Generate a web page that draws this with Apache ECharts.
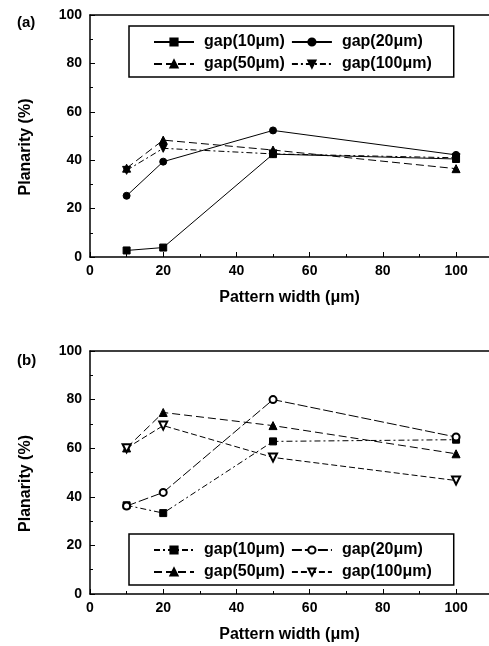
<!DOCTYPE html>
<html>
<head>
<meta charset="utf-8">
<script src="https://cdn.jsdelivr.net/npm/echarts@6/dist/echarts.min.js"></script>
<style>
  html, body { margin: 0; padding: 0; background: #fff; }
  #chart { width: 489px; height: 646px; }
</style>
</head>
<body>
<div id="chart"></div>
<script>
// Pattern widths (μm) shared by both panels
const patternWidths = [10, 20, 50, 100];

// Gap labels
const gapLabels = ['gap(10μm)', 'gap(20μm)', 'gap(50μm)', 'gap(100μm)'];

// Panel (a): planarity (%)
const aGap10 = [2.7, 3.9, 42.5, 40.5];
const aGap20 = [25.3, 39.4, 52.3, 42.2];
const aGap50 = [36.7, 48.3, 44.2, 36.5];
const aGap100 = [35.8, 44.9, 42.6, 41.0];

// Panel (b): planarity (%)
const bGap10 = [36.5, 33.3, 62.8, 63.5];
const bGap20 = [36.2, 41.8, 80.0, 64.6];
const bGap50 = [60.1, 74.7, 69.3, 57.7];
const bGap100 = [60.0, 69.3, 56.2, 46.7];

// Axis ticks
const xTicks = [0, 20, 40, 60, 80, 100];
const yTicks = [0, 20, 40, 60, 80, 100];

const FONT = '"Liberation Sans", Arial, Helvetica, sans-serif';
const INK = '#000';
const X_MAX = 109;

function pairs(vals) {
  return patternWidths.map((x, i) => [x, vals[i]]);
}

function xAxisFor(gridIndex) {
  return {
    gridIndex,
    type: 'value',
    position: 'bottom',
    min: 0,
    max: X_MAX,
    interval: 20,
    name: 'Pattern width (μm)',
    nameLocation: 'middle',
    nameGap: 33,
    nameTextStyle: { fontFamily: FONT, fontWeight: 'bold', fontSize: 16, color: INK },
    axisLine: { show: true, lineStyle: { color: INK, width: 1.5 } },
    axisTick: { show: true, inside: true, length: 5, lineStyle: { color: INK, width: 1 } },
    minorTick: { show: true, splitNumber: 2, length: 3, lineStyle: { color: INK, width: 1 } },
    splitLine: { show: false },
    axisLabel: {
      margin: 7,
      showMaxLabel: false,
      fontFamily: FONT, fontWeight: 'bold', fontSize: 14, color: INK,
      formatter: v => (xTicks.indexOf(v) >= 0 ? String(v) : '')
    }
  };
}

// Plain frame line along the top of each panel
function topFrameFor(gridIndex) {
  return {
    gridIndex,
    type: 'value',
    position: 'top',
    min: 0,
    max: X_MAX,
    axisLine: { show: true, lineStyle: { color: INK, width: 1.5 } },
    axisTick: { show: false },
    axisLabel: { show: false },
    splitLine: { show: false }
  };
}

function yAxisFor(gridIndex) {
  return {
    gridIndex,
    type: 'value',
    min: 0,
    max: 100,
    interval: 20,
    name: 'Planarity (%)',
    nameLocation: 'middle',
    nameGap: 56,
    nameTextStyle: {
      fontFamily: FONT, fontWeight: 'bold', fontSize: 16, color: INK,
      padding: [0, 22, 0, 0]
    },
    axisLine: { show: true, lineStyle: { color: INK, width: 1.5 } },
    axisTick: { show: true, inside: true, length: 5, lineStyle: { color: INK, width: 1 } },
    minorTick: { show: true, splitNumber: 2, length: 3, lineStyle: { color: INK, width: 1 } },
    splitLine: { show: false },
    axisLabel: {
      margin: 8,
      fontFamily: FONT, fontWeight: 'bold', fontSize: 14, color: INK,
      formatter: v => (yTicks.indexOf(v) >= 0 ? String(v) : '')
    }
  };
}

function lineSeries(id, label, vals, panel, symbol, rotate, dash, size) {
  return {
    id,
    name: panel + '|' + label,
    type: 'line',
    xAxisIndex: panel === 'a' ? 0 : 1,
    yAxisIndex: panel === 'a' ? 0 : 1,
    data: pairs(vals),
    symbol,
    symbolRotate: rotate,
    symbolSize: size,
    showAllSymbol: true,
    lineStyle: { color: INK, width: 1, type: dash },
    itemStyle: { color: INK, borderColor: INK, borderWidth: 1 },
    emphasis: { disabled: true },
    animation: false,
    z: 3
  };
}

function legendFor(panel, top) {
  return {
    data: gapLabels.map(l => panel + '|' + l),
    formatter: name => name.split('|')[1],
    orient: 'horizontal',
    left: 129,
    top,
    width: 282,
    padding: [8, 22, 5, 24],
    itemGap: 6,
    itemWidth: 40,
    itemHeight: 9,
    borderColor: INK,
    borderWidth: 1.5,
    backgroundColor: '#fff',
    selectedMode: false,
    textStyle: {
      fontFamily: FONT, fontWeight: 'bold', fontSize: 16, color: INK,
      lineHeight: 16, padding: [0, 0, 0, 5]
    }
  };
}

const chart = echarts.init(document.getElementById('chart'), null, { renderer: 'canvas' });

chart.setOption({
  backgroundColor: '#fff',
  animation: false,
  grid: [
    { left: 90, top: 15, right: 0, height: 242 },
    { left: 90, top: 351, right: 0, height: 243 }
  ],
  xAxis: [xAxisFor(0), xAxisFor(1), topFrameFor(0), topFrameFor(1)],
  yAxis: [yAxisFor(0), yAxisFor(1)],
  legend: [legendFor('a', 26), legendFor('b', 534)],
  graphic: [
    { type: 'text', left: 17, top: 15, style: { text: '(a)', fontFamily: FONT, fontWeight: 'bold', fontSize: 15, fill: INK } },
    { type: 'text', left: 17, top: 353, style: { text: '(b)', fontFamily: FONT, fontWeight: 'bold', fontSize: 15, fill: INK } }
  ],
  series: [
    lineSeries('a10', gapLabels[0], aGap10, 'a', 'rect', 0, 'solid', 7),
    lineSeries('a20', gapLabels[1], aGap20, 'a', 'circle', 0, 'solid', 7),
    lineSeries('a50', gapLabels[2], aGap50, 'a', 'triangle', 0, [8, 4], 8),
    lineSeries('a100', gapLabels[3], aGap100, 'a', 'triangle', 180, [6, 3, 2, 3], 8),
    lineSeries('b10', gapLabels[0], bGap10, 'b', 'rect', 0, [6, 3, 2, 3], 7),
    lineSeries('b20', gapLabels[1], bGap20, 'b', 'emptyCircle', 0, [10, 3], 7),
    lineSeries('b50', gapLabels[2], bGap50, 'b', 'triangle', 0, [8, 4], 8),
    lineSeries('b100', gapLabels[3], bGap100, 'b', 'emptyTriangle', 180, [6, 3], 8)
  ]
});
</script>
</body>
</html>
